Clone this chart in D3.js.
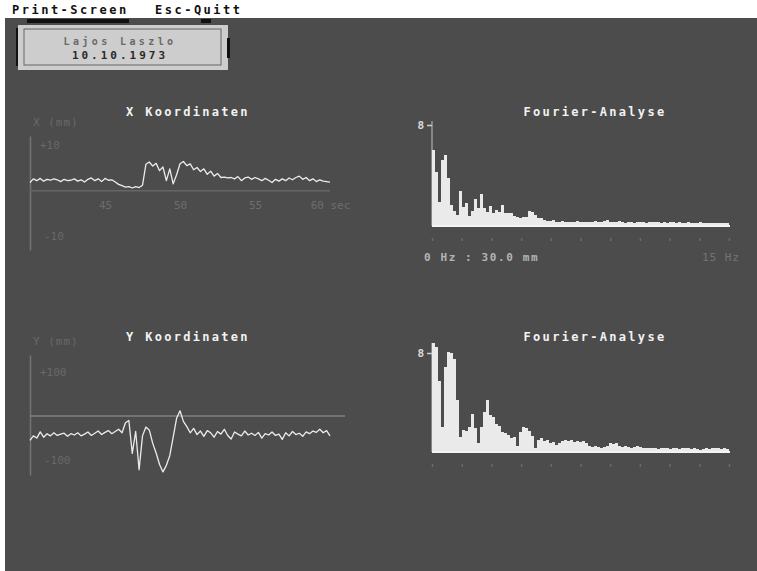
<!DOCTYPE html>
<html lang="de">
<head>
    <meta charset="UTF-8">
    <title>Koordinaten / Fourier-Analyse</title>
    <style>
        body { margin: 0; background: #fff; }
        svg { display: block; }
        .mono { font-family: "DejaVu Sans Mono", monospace; }
    </style>
    <script src="https://d3js.org/d3.v7.min.js"></script>
</head>
<body>
    <div id="chart"></div>

    <script>
        // ---- data ----
        const menuItems = ["Print-Screen", "Esc-Quitt"];
        const personName = "Lajos Laszlo";
        const personDate = "10.10.1973";

        // time window of the coordinate plots (sec)
        const timeRange = [40, 60];
        const timeTicks = [45, 50, 55, 60];
        const timeTickLabels = ["45", "50", "55", "60 sec"];

        // X coordinate (mm)
        const xSignal = [1.8, 2.6, 2.2, 2.7, 2.1, 2.5, 2.3, 2.6, 2.4, 2.0,
            2.5, 2.2, 2.3, 2.6, 2.1, 2.4, 1.9, 2.5, 2.8, 2.2,
            2.6, 2.0, 2.7, 2.3, 2.4, 1.9, 1.4, 1.1, 0.8, 0.9,
            0.6, 0.9, 0.7, 1.2, 5.8, 6.3, 5.4, 6.0, 4.4, 5.2,
            2.2, 4.8, 1.5, 3.5, 5.9, 6.4, 5.5, 5.9, 4.6, 5.1,
            4.2, 4.8, 3.6, 4.3, 3.2, 3.8, 2.9, 3.0, 2.8, 2.9,
            2.6, 3.1, 2.2, 2.8, 3.0, 2.5, 2.9, 2.6, 2.2, 2.7,
            2.3, 1.8, 2.5, 2.1, 2.6, 2.2, 2.8, 2.4, 2.9, 3.2,
            2.5, 2.9, 2.2, 2.6, 2.0, 2.4, 2.1, 2.0, 1.9];
        const xAxisLabels = { unit: "X (mm)", top: "+10", bottom: "-10", topValue: 10, bottomValue: -10 };

        // Y coordinate (mm)
        const ySignal = [-55, -45, -50, -36, -48, -40, -45, -38, -44, -41,
            -39, -46, -40, -43, -38, -45, -41, -36, -44, -39,
            -34, -42, -37, -33, -40, -35, -30, -38, -15, -10,
            -85, -35, -122, -45, -25, -32, -62, -84, -110, -127,
            -112, -90, -48, -5, 12, -12, -24, -38, -28, -42,
            -34, -46, -33, -38, -48, -35, -41, -30, -44, -52,
            -36, -41, -45, -34, -43, -39, -44, -37, -50, -40,
            -43, -36, -44, -41, -53, -38, -45, -35, -42, -39,
            -46, -36, -40, -34, -37, -30, -38, -33, -45];
        const yAxisLabels = { unit: "Y (mm)", top: "+100", bottom: "-100", topValue: 100, bottomValue: -100 };

        // Fourier spectra, 0..15 Hz
        const freqRange = [0, 15];
        const freqTicks = [0, 1.5, 3, 4.5, 6, 7.5, 9, 10.5, 12, 13.5, 15];
        const spectrumMax = 8;
        const spectrumX = [6.0, 4.3, 1.9, 5.2, 5.6, 3.8, 1.7, 1.2, 0.9, 2.8,
            1.5, 1.8, 0.8, 1.2, 2.1, 1.4, 2.5, 1.4, 1.1, 1.6,
            1.0, 1.3, 1.1, 1.7, 1.0, 1.0, 1.0, 0.8, 0.7, 0.6,
            0.7, 0.7, 1.2, 1.1, 0.9, 0.6, 0.6, 0.5, 0.4, 0.4,
            0.5, 0.3, 0.3, 0.4, 0.3, 0.3, 0.35, 0.3, 0.4, 0.3,
            0.3, 0.35, 0.3, 0.3, 0.4, 0.3, 0.3, 0.4, 0.45, 0.35,
            0.3, 0.3, 0.4, 0.3, 0.25, 0.3, 0.3, 0.25, 0.3, 0.35,
            0.3, 0.25, 0.3, 0.3, 0.35, 0.3, 0.25, 0.3, 0.25, 0.3,
            0.3, 0.25, 0.3, 0.2, 0.25, 0.3, 0.25, 0.2, 0.25, 0.3,
            0.2, 0.25, 0.2, 0.25, 0.2, 0.2, 0.25, 0.2, 0.2];
        const spectrumY = [8.8, 8.5, 5.7, 2.0, 6.9, 8.1, 8.0, 7.5, 4.2, 1.2,
            1.8, 1.7, 2.0, 3.1, 1.9, 0.7, 2.0, 3.2, 4.2, 3.0,
            2.8, 2.3, 2.1, 1.6, 1.5, 1.4, 1.1, 1.2, 0.5, 1.6,
            2.0, 1.9, 1.7, 1.3, 0.3, 1.0, 1.1, 0.9, 1.0, 0.7,
            0.8, 0.6, 0.7, 0.9, 1.0, 0.9, 1.0, 0.8, 0.9, 0.8,
            0.9, 0.7, 0.5, 0.4, 0.45, 0.4, 0.35, 0.4, 0.5, 0.7,
            0.65, 0.7, 0.5, 0.4, 0.45, 0.4, 0.35, 0.4, 0.45, 0.4,
            0.35, 0.3, 0.35, 0.3, 0.3, 0.25, 0.3, 0.35, 0.3, 0.25,
            0.3, 0.3, 0.25, 0.3, 0.35, 0.3, 0.25, 0.3, 0.25, 0.2,
            0.25, 0.3, 0.25, 0.3, 0.35, 0.3, 0.25, 0.3, 0.25];
        const spectrumCaption = "0 Hz : 30.0 mm";
        const spectrumEndLabel = "15 Hz";

        // ---- drawing ----
        const W = 757, H = 571;
        const svg = d3.select('#chart').append('svg')
            .attr('width', W)
            .attr('height', H);

        // screen background + menu line
        svg.append('rect').attr('x', 0).attr('y', 0).attr('width', W).attr('height', H).attr('fill', '#fff');
        svg.append('rect').attr('x', 5).attr('y', 18).attr('width', W - 5).attr('height', H - 18).attr('fill', '#4c4c4c');

        const menuX = [12, 155];
        menuItems.forEach((m, i) => {
            svg.append('text').attr('class', 'mono')
                .attr('x', menuX[i]).attr('y', 14)
                .attr('font-size', 12).attr('font-weight', 'bold')
                .attr('letter-spacing', 2.5)
                .attr('fill', '#111')
                .text(m);
        });
        svg.append('rect').attr('x', 27).attr('y', 19).attr('width', 102).attr('height', 4).attr('fill', '#111');
        svg.append('rect').attr('x', 201).attr('y', 19).attr('width', 10).attr('height', 4).attr('fill', '#111');

        // name box
        svg.append('rect').attr('x', 18).attr('y', 25).attr('width', 210).attr('height', 45).attr('fill', '#cdcdcd');
        svg.append('rect').attr('x', 24).attr('y', 29).attr('width', 197).attr('height', 36)
            .attr('fill', 'none').attr('stroke', '#666').attr('stroke-width', 1);
        svg.append('rect').attr('x', 16).attr('y', 28).attr('width', 2).attr('height', 38).attr('fill', '#111');
        svg.append('rect').attr('x', 227).attr('y', 38).attr('width', 3).attr('height', 20).attr('fill', '#111');
        svg.append('text').attr('class', 'mono').attr('x', 120).attr('y', 45)
            .attr('text-anchor', 'middle').attr('font-size', 10).attr('font-weight', 'bold')
            .attr('letter-spacing', 3.4).attr('fill', '#6a6a6a').text(personName);
        svg.append('text').attr('class', 'mono').attr('x', 120).attr('y', 59)
            .attr('text-anchor', 'middle').attr('font-size', 11).attr('font-weight', 'bold')
            .attr('letter-spacing', 3).attr('fill', '#2a2a2a').text(personDate);

        function title(x, y, txt) {
            svg.append('text').attr('class', 'mono')
                .attr('x', x).attr('y', y)
                .attr('text-anchor', 'middle')
                .attr('font-size', 12).attr('font-weight', 'bold')
                .attr('letter-spacing', 2.3)
                .attr('fill', '#f2f2f2')
                .text(txt);
        }

        // coordinate plot
        function drawSignal(opt) {
            const g = svg.append('g');
            const x = d3.scaleLinear().domain(timeRange).range([30, 330]);
            const y = d3.scaleLinear().domain(opt.domain).range([opt.bottom, opt.top]);
            const n = opt.values.length;
            const times = d3.range(n).map(i => timeRange[0] + i * (timeRange[1] - timeRange[0]) / (n - 1));

            title(188, opt.titleY, opt.title);

            // vertical axis (line only)
            g.append('g')
                .attr('transform', 'translate(30,0)')
                .call(d3.axisLeft(y).tickValues([]).tickSizeOuter(0))
                .call(a => a.select('.domain').attr('stroke', '#747474').attr('stroke-width', 1.5));

            // zero line
            g.append('line')
                .attr('x1', 30).attr('x2', opt.zeroEnd)
                .attr('y1', y(0)).attr('y2', y(0))
                .attr('stroke', opt.zeroColor).attr('stroke-width', 1.5);

            // faint labels
            const faint = '#696969';
            g.append('text').attr('class', 'mono').attr('x', 33).attr('y', opt.top - 10)
                .attr('font-size', 11).attr('letter-spacing', 1).attr('fill', faint).text(opt.labels.unit);
            g.append('text').attr('class', 'mono').attr('x', 40).attr('y', y(opt.labels.topValue) + 4)
                .attr('font-size', 11).attr('fill', faint).text(opt.labels.top);
            g.append('text').attr('class', 'mono').attr('x', 44).attr('y', y(opt.labels.bottomValue) + 4)
                .attr('font-size', 11).attr('fill', faint).text(opt.labels.bottom);

            if (opt.timeAxis) {
                g.append('g')
                    .attr('transform', `translate(0,${opt.timeAxisY})`)
                    .call(d3.axisBottom(x).tickValues(timeTicks).tickSize(0)
                        .tickFormat((d, i) => timeTickLabels[i]))
                    .call(a => a.select('.domain').remove())
                    .call(a => a.selectAll('text')
                        .attr('class', 'mono')
                        .attr('font-size', 11)
                        .attr('fill', '#6e6e6e'));
            }

            // signal
            const line = d3.line()
                .x((d, i) => x(times[i]))
                .y(d => y(d));
            g.append('path')
                .datum(opt.values)
                .attr('d', line)
                .attr('fill', 'none')
                .attr('stroke', '#ececec')
                .attr('stroke-width', 1.3)
                .attr('stroke-linejoin', 'round');
        }

        // Fourier panel
        function drawSpectrum(opt) {
            const g = svg.append('g');
            const xb = d3.scaleBand().domain(d3.range(opt.values.length)).range([432, 729]).padding(0);
            const xf = d3.scaleLinear().domain(freqRange).range([432, 729]);
            const y = d3.scaleLinear().domain([0, spectrumMax]).range([opt.base, opt.top]);

            title(595, opt.titleY, 'Fourier-Analyse');

            // y axis with "8-" tick
            g.append('line').attr('x1', 432).attr('x2', 432)
                .attr('y1', opt.base).attr('y2', opt.axisTop)
                .attr('stroke', '#9a9a9a').attr('stroke-width', 1.5);
            g.append('g')
                .attr('transform', 'translate(432,0)')
                .call(d3.axisLeft(y).tickValues([spectrumMax]).tickSize(5).tickPadding(3))
                .call(a => a.select('.domain').remove())
                .call(a => a.selectAll('line').attr('stroke', '#cfcfcf').attr('stroke-width', 1.5))
                .call(a => a.selectAll('text')
                    .attr('class', 'mono')
                    .attr('font-size', 11).attr('font-weight', 'bold')
                    .attr('fill', '#dcdcdc'));

            // bars
            g.selectAll('.bar')
                .data(opt.values)
                .enter().append('rect')
                  .attr('class', 'bar')
                  .attr('x', (d, i) => xb(i))
                  .attr('y', d => y(d))
                  .attr('width', xb.bandwidth())
                  .attr('height', d => opt.base - y(d))
                  .attr('fill', '#eaeaea')
                  .attr('shape-rendering', 'crispEdges');

            // baseline
            g.append('line').attr('x1', 432).attr('x2', 730)
                .attr('y1', opt.base).attr('y2', opt.base)
                .attr('stroke', '#f4f4f4').attr('stroke-width', 2);

            // frequency ticks (faint dots)
            g.append('g')
                .attr('transform', `translate(0,${opt.base + 12})`)
                .call(d3.axisBottom(xf).tickValues(freqTicks).tickSize(3).tickFormat(''))
                .call(a => a.select('.domain').remove())
                .call(a => a.selectAll('line').attr('stroke', '#6a6a6a').attr('stroke-width', 1.5));

            if (opt.caption) {
                g.append('text').attr('class', 'mono').attr('x', 424).attr('y', opt.base + 35)
                    .attr('font-size', 11).attr('font-weight', 'bold').attr('letter-spacing', 1.6)
                    .attr('fill', '#b4b4b4').text(spectrumCaption);
                g.append('text').attr('class', 'mono').attr('x', 740).attr('y', opt.base + 35)
                    .attr('text-anchor', 'end')
                    .attr('font-size', 11).attr('letter-spacing', 1)
                    .attr('fill', '#747474').text(spectrumEndLabel);
            }
        }

        drawSignal({
            title: 'X Koordinaten', titleY: 116,
            values: xSignal, domain: [-13, 12], top: 136, bottom: 250,
            labels: xAxisLabels, zeroColor: '#666', zeroEnd: 330,
            timeAxis: true, timeAxisY: 198
        });
        drawSignal({
            title: 'Y Koordinaten', titleY: 341,
            values: ySignal, domain: [-134, 139], top: 355, bottom: 475,
            labels: yAxisLabels, zeroColor: '#808080', zeroEnd: 345,
            timeAxis: false
        });

        drawSpectrum({ titleY: 116, values: spectrumX, base: 226, top: 125, axisTop: 121, caption: true });
        drawSpectrum({ titleY: 341, values: spectrumY, base: 452, top: 353, axisTop: 343, caption: false });
    </script>
</body>
</html>
